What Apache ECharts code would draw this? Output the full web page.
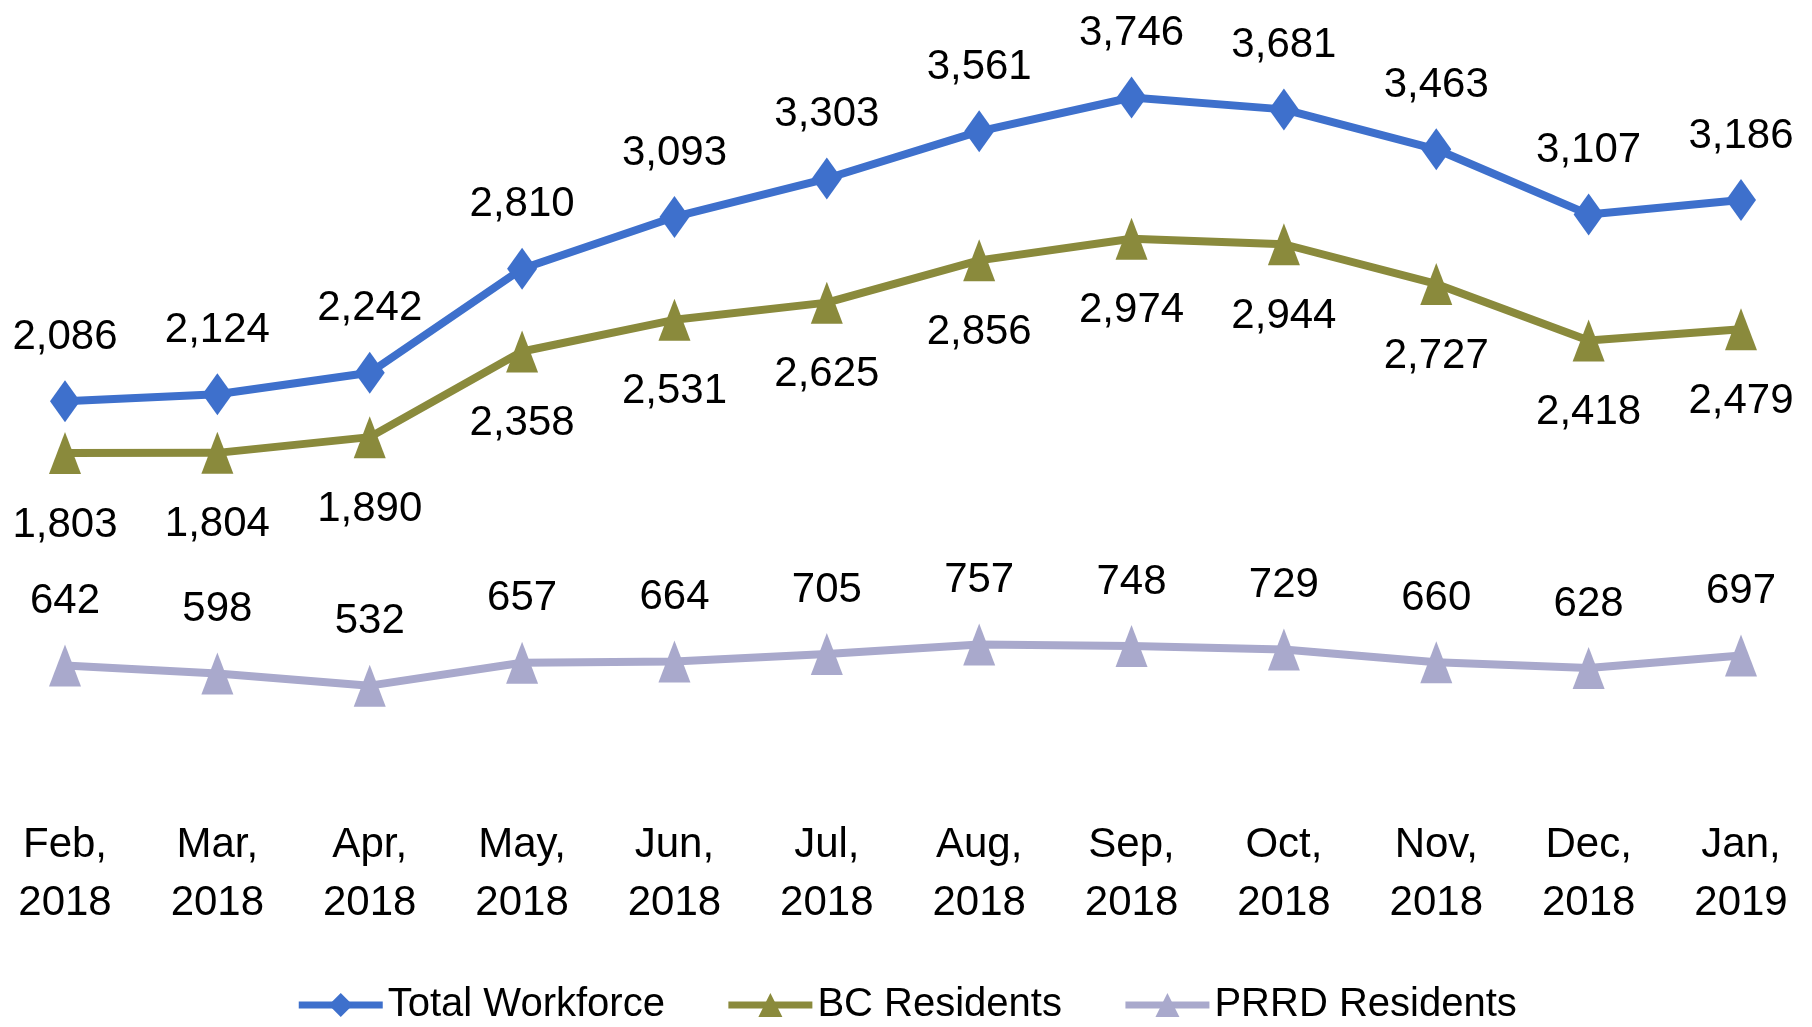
<!DOCTYPE html>
<html>
<head>
<meta charset="utf-8">
<script src="https://cdn.jsdelivr.net/npm/echarts@6/dist/echarts.min.js"></script>
<style>
html,body{margin:0;padding:0;background:#fff;}
#c{width:1812px;height:1027px;}
</style>
</head>
<body>
<div id="c"></div>
<script>
const categories = ['Feb,\n2018','Mar,\n2018','Apr,\n2018','May,\n2018','Jun,\n2018','Jul,\n2018','Aug,\n2018','Sep,\n2018','Oct,\n2018','Nov,\n2018','Dec,\n2018','Jan,\n2019'];
const totalWorkforce = [2086,2124,2242,2810,3093,3303,3561,3746,3681,3463,3107,3186];
const bcResidents = [1803,1804,1890,2358,2531,2625,2856,2974,2944,2727,2418,2479];
const prrdResidents = [642,598,532,657,664,705,757,748,729,660,628,697];

const FONT = '"Liberation Sans Narrow", "Arial Narrow", "Liberation Sans", Arial, sans-serif';
const fmt = p => p.value.toLocaleString('en-US');

const chart = echarts.init(document.getElementById('c'), null, {renderer:'canvas'});
chart.setOption({
  backgroundColor:'#ffffff',
  animation:false,
  grid:{left:65, right:71, top:51, height:732},
  legend:{
    top:980, left:'center',
    itemWidth:84, itemHeight:30, itemGap:60,
    lineStyle:{width:7},
    textStyle:{fontFamily:FONT, fontSize:40, color:'#000'},
    data:['Total Workforce','BC Residents','PRRD Residents']
  },
  xAxis:{
    type:'category', boundaryGap:false, data:categories,
    axisLine:{show:false}, axisTick:{show:false},
    axisLabel:{fontFamily:FONT, fontSize:42, color:'#000', lineHeight:58, margin:33, interval:0}
  },
  yAxis:{type:'value', min:0, max:4000, show:false, splitLine:{show:false}},
  series:[
    {
      name:'Total Workforce', type:'line', data:totalWorkforce,
      symbol:'diamond', symbolSize:[30,42],
      lineStyle:{color:'#3E70CC', width:8},
      itemStyle:{color:'#3E70CC'},
      label:{show:true, position:'top', distance:22, formatter:fmt, fontFamily:FONT, fontSize:42, color:'#000'}
    },
    {
      name:'BC Residents', type:'line', data:bcResidents,
      symbol:'triangle', symbolSize:[32,42],
      lineStyle:{color:'#8A8A3C', width:8},
      itemStyle:{color:'#8A8A3C'},
      label:{show:true, position:'bottom', distance:30, formatter:fmt, fontFamily:FONT, fontSize:42, color:'#000'}
    },
    {
      name:'PRRD Residents', type:'line', data:prrdResidents,
      symbol:'triangle', symbolSize:[32,42],
      lineStyle:{color:'#A9A9CC', width:8},
      itemStyle:{color:'#A9A9CC'},
      label:{show:true, position:'top', distance:22, formatter:fmt, fontFamily:FONT, fontSize:42, color:'#000'}
    }
  ]
});
</script>
</body>
</html>
